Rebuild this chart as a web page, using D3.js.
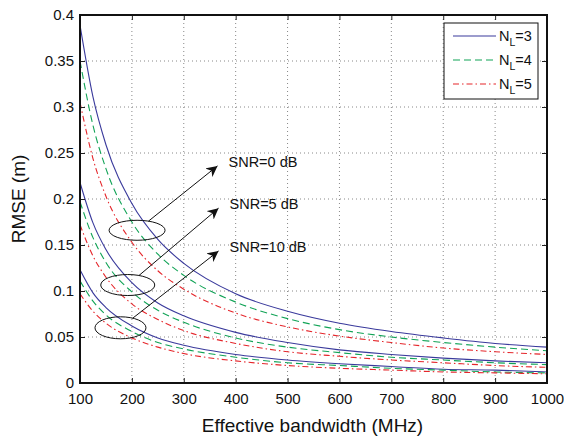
<!DOCTYPE html>
<html>
<head>
<meta charset="utf-8">
<script src="https://cdn.jsdelivr.net/npm/d3@7.9.0/dist/d3.min.js"></script>
<style>
  body { margin: 0; background: #fff; }
  svg { font-family: "Liberation Sans", Arial, sans-serif; }
</style>
</head>
<body>
<svg id="chart" width="564" height="439"></svg>
<script>
// bandwidth samples (MHz)
const bandwidth = [100, 125, 150, 200, 250, 300, 400, 500, 600, 700, 800, 900, 1000];

// RMSE (m), SNR = 0 dB
const snr0_nl3 = [0.389, 0.311, 0.259, 0.195, 0.156, 0.130, 0.097, 0.078, 0.065, 0.056, 0.049, 0.043, 0.039];
const snr0_nl4 = [0.350, 0.280, 0.233, 0.175, 0.140, 0.117, 0.088, 0.070, 0.058, 0.050, 0.044, 0.039, 0.035];
const snr0_nl5 = [0.305, 0.244, 0.203, 0.153, 0.122, 0.102, 0.076, 0.061, 0.051, 0.044, 0.038, 0.034, 0.031];
// SNR = 5 dB
const snr5_nl3 = [0.218, 0.174, 0.145, 0.109, 0.087, 0.073, 0.055, 0.044, 0.036, 0.031, 0.027, 0.024, 0.022];
const snr5_nl4 = [0.197, 0.158, 0.131, 0.099, 0.079, 0.066, 0.049, 0.039, 0.033, 0.028, 0.025, 0.022, 0.020];
const snr5_nl5 = [0.172, 0.138, 0.115, 0.086, 0.069, 0.057, 0.043, 0.034, 0.029, 0.025, 0.022, 0.019, 0.017];
// SNR = 10 dB
const snr10_nl3 = [0.123, 0.098, 0.082, 0.062, 0.049, 0.041, 0.031, 0.025, 0.021, 0.018, 0.015, 0.014, 0.012];
const snr10_nl4 = [0.111, 0.089, 0.074, 0.056, 0.044, 0.037, 0.028, 0.022, 0.019, 0.016, 0.014, 0.012, 0.011];
const snr10_nl5 = [0.097, 0.078, 0.065, 0.049, 0.039, 0.032, 0.024, 0.019, 0.016, 0.014, 0.012, 0.011, 0.010];

const xTicks = [100, 200, 300, 400, 500, 600, 700, 800, 900, 1000];
const yTicks = [0, 0.05, 0.1, 0.15, 0.2, 0.25, 0.3, 0.35, 0.4];
const legendLabels = ['3', '4', '5'];

// annotation labels, ellipse centres and arrow tips in data units
const snrLabels = ['SNR=0 dB', 'SNR=5 dB', 'SNR=10 dB'];
const ellipseCx = [210, 192, 178];
const ellipseCy = [0.166, 0.1065, 0.060];
const arrowTipX = [365, 367, 367];
const arrowTipY = [0.236, 0.190, 0.1435];

const styles = [
  { color: '#3a3a9c', dash: null },
  { color: '#11a356', dash: '7,4' },
  { color: '#e5262b', dash: '6,3,1.5,3' }
];

const series = [
  [snr0_nl3, 0], [snr0_nl4, 1], [snr0_nl5, 2],
  [snr5_nl3, 0], [snr5_nl4, 1], [snr5_nl5, 2],
  [snr10_nl3, 0], [snr10_nl4, 1], [snr10_nl5, 2]
];

const margin = { left: 80, top: 15, right: 17, bottom: 56 };
const width = 564 - margin.left - margin.right;
const height = 439 - margin.top - margin.bottom;

const svg = d3.select('#chart');
const g = svg.append('g').attr('transform', `translate(${margin.left},${margin.top})`);

const x = d3.scaleLinear().domain([100, 1000]).range([0, width]);
const y = d3.scaleLinear().domain([0, 0.4]).range([height, 0]);

// dotted grid
g.append('g').selectAll('line').data(xTicks.slice(1, -1)).join('line')
  .attr('x1', d => x(d)).attr('x2', d => x(d))
  .attr('y1', 0).attr('y2', height)
  .attr('stroke', '#888').attr('stroke-width', 1)
  .attr('stroke-dasharray', '1,3');
g.append('g').selectAll('line').data(yTicks.slice(1, -1)).join('line')
  .attr('y1', d => y(d)).attr('y2', d => y(d))
  .attr('x1', 0).attr('x2', width)
  .attr('stroke', '#888').attr('stroke-width', 1)
  .attr('stroke-dasharray', '1,3');

// curves
const line = d3.line()
  .x((d, i) => x(bandwidth[i]))
  .y(d => y(d))
  .curve(d3.curveMonotoneX);

svg.append('clipPath').attr('id', 'clip')
  .append('rect').attr('width', width).attr('height', height);

g.append('g').attr('clip-path', 'url(#clip)')
  .selectAll('path').data(series).join('path')
  .attr('d', d => line(d[0]))
  .attr('fill', 'none')
  .attr('stroke', d => styles[d[1]].color)
  .attr('stroke-width', 1.1)
  .attr('stroke-dasharray', d => styles[d[1]].dash);

// axes with inward ticks, MATLAB style
const xAxis = d3.axisBottom(x).tickValues(xTicks).tickSize(-5).tickPadding(10).tickFormat(d3.format('d'));
const yAxis = d3.axisLeft(y).tickValues(yTicks).tickSize(-5).tickPadding(6).tickFormat(d => d === 0 ? '0' : String(+d.toFixed(2)));

const gx = g.append('g').attr('transform', `translate(0,${height})`).call(xAxis);
const gy = g.append('g').call(yAxis);
g.append('g').call(d3.axisTop(x).tickValues(xTicks).tickSize(-5).tickFormat(''));
g.append('g').attr('transform', `translate(${width},0)`)
  .call(d3.axisRight(y).tickValues(yTicks).tickSize(-5).tickFormat(''));

g.selectAll('.domain').remove();
g.selectAll('.tick line').attr('stroke', '#222');
[gx, gy].forEach(a => a.selectAll('text')
  .attr('font-size', 15)
  .attr('font-family', '"Liberation Sans", Arial, sans-serif')
  .attr('fill', '#111'));

g.append('rect')
  .attr('width', width).attr('height', height)
  .attr('fill', 'none').attr('stroke', '#111').attr('stroke-width', 2);

// axis labels
svg.append('text')
  .attr('x', margin.left + width / 2 - 1).attr('y', 432)
  .attr('text-anchor', 'middle').attr('font-size', 19).attr('fill', '#111')
  .text('Effective bandwidth (MHz)');
svg.append('text')
  .attr('transform', `translate(25,${margin.top + height / 2}) rotate(-90)`)
  .attr('text-anchor', 'middle').attr('font-size', 19).attr('fill', '#111')
  .text('RMSE (m)');

// annotations
const defs = svg.append('defs');
defs.append('marker')
  .attr('id', 'arrow').attr('viewBox', '0 0 10 10')
  .attr('refX', 10).attr('refY', 5)
  .attr('markerWidth', 11).attr('markerHeight', 11)
  .attr('markerUnits', 'userSpaceOnUse')
  .attr('orient', 'auto')
  .append('path').attr('d', 'M0,0 L10,5 L0,10 L3,5 Z').attr('fill', '#111');

const rx = [28, 27, 25.5];
const ry = [10, 10.5, 11];
snrLabels.forEach((label, i) => {
  const cx = x(ellipseCx[i]), cy = y(ellipseCy[i]);
  g.append('ellipse')
    .attr('cx', cx).attr('cy', cy).attr('rx', rx[i]).attr('ry', ry[i])
    .attr('fill', 'none').attr('stroke', '#111').attr('stroke-width', 1);
  const tx = x(arrowTipX[i]), ty = y(arrowTipY[i]);
  // start on the ellipse edge toward the tip
  const ang = Math.atan2((ty - cy) / ry[i], (tx - cx) / rx[i]);
  const sx = cx + rx[i] * Math.cos(ang), sy = cy + ry[i] * Math.sin(ang);
  g.append('line')
    .attr('x1', sx).attr('y1', sy).attr('x2', tx).attr('y2', ty)
    .attr('stroke', '#111').attr('stroke-width', 1)
    .attr('marker-end', 'url(#arrow)');
  g.append('text')
    .attr('x', tx + 11).attr('y', ty + 1)
    .attr('font-size', 14.5).attr('fill', '#111')
    .text(label);
});

// legend
const lg = svg.append('g').attr('transform', 'translate(444,23)');
lg.append('rect').attr('width', 94).attr('height', 76)
  .attr('fill', '#fff').attr('stroke', '#111').attr('stroke-width', 1);
legendLabels.forEach((lab, i) => {
  const yy = 13 + i * 24;
  lg.append('line')
    .attr('x1', 9).attr('x2', 52).attr('y1', yy).attr('y2', yy)
    .attr('stroke', styles[i].color).attr('stroke-width', 1.1)
    .attr('stroke-dasharray', styles[i].dash);
  const t = lg.append('text').attr('x', 55).attr('y', yy + 5)
    .attr('font-size', 14.5).attr('fill', '#111');
  t.append('tspan').text('N');
  t.append('tspan').attr('font-size', 10.5).attr('dy', 5).text('L');
  t.append('tspan').attr('dy', -5).text('=' + lab);
});
</script>
</body>
</html>
